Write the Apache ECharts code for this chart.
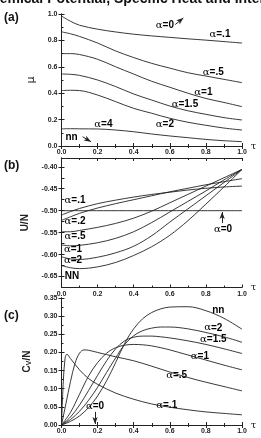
<!DOCTYPE html>
<html>
<head>
<meta charset="utf-8">
<script src="https://cdn.jsdelivr.net/npm/echarts@6/dist/echarts.min.js"></script>
<style>
  html, body { margin: 0; padding: 0; background: #fff; }
  #chart { width: 261px; height: 438px; }
</style>
</head>
<body>
<div id="chart"></div>
<script>
// ---- panel (a): chemical potential mu vs tau ----
const tauA = [0, 0.05, 0.1, 0.2, 0.3, 0.4, 0.5, 0.6, 0.7, 0.8, 0.9, 1.0];
const muA01 = [0.985, 0.945, 0.915, 0.885, 0.864, 0.847, 0.834, 0.823, 0.812, 0.802, 0.791, 0.78];
const muA05 = [0.865, 0.85, 0.83, 0.78, 0.72, 0.67, 0.626, 0.59, 0.555, 0.53, 0.505, 0.48];
const muA1 = [0.70, 0.70, 0.693, 0.657, 0.60, 0.545, 0.49, 0.445, 0.40, 0.36, 0.33, 0.298];
const muA15 = [0.545, 0.543, 0.535, 0.50, 0.45, 0.394, 0.348, 0.303, 0.267, 0.24, 0.215, 0.197];
const muA2 = [0.42, 0.422, 0.42, 0.386, 0.336, 0.285, 0.248, 0.21, 0.18, 0.157, 0.136, 0.121];
const muA4 = [0.13, 0.131, 0.13, 0.129, 0.121, 0.108, 0.091, 0.076, 0.063, 0.05, 0.04, 0.033];

// ---- panel (b): internal energy U/N vs tau ----
const tauB = [0, 0.05, 0.1, 0.2, 0.3, 0.4, 0.5, 0.6, 0.7, 0.8, 0.9, 1.0];
const uA01 = [-0.510, -0.502, -0.495, -0.484, -0.476, -0.469, -0.463, -0.458, -0.453, -0.449, -0.446, -0.444];
const uA02 = [-0.522, -0.514, -0.506, -0.494, -0.484, -0.475, -0.466, -0.457, -0.449, -0.441, -0.434, -0.427];
const uA05 = [-0.548, -0.548, -0.545, -0.538, -0.529, -0.517, -0.501, -0.482, -0.463, -0.444, -0.425, -0.406];
const uA1 = [-0.578, -0.580, -0.579, -0.573, -0.563, -0.548, -0.527, -0.503, -0.479, -0.455, -0.430, -0.406];
const uA2 = [-0.605, -0.610, -0.611, -0.606, -0.596, -0.581, -0.557, -0.526, -0.496, -0.466, -0.436, -0.406];
const uNN = [-0.625, -0.630, -0.632, -0.628, -0.618, -0.602, -0.582, -0.556, -0.523, -0.485, -0.446, -0.406];
const uA0 = -0.5;

// ---- panel (c): specific heat Cv/N vs tau ----
const tauC01 = [0, 0.01, 0.02, 0.03, 0.05, 0.1, 0.15, 0.2, 0.3, 0.4, 0.5, 0.6, 0.7, 0.8, 0.9, 1.0];
const cvA01 = [0, 0.12, 0.185, 0.195, 0.183, 0.152, 0.128, 0.112, 0.088, 0.071, 0.058, 0.049, 0.042, 0.036, 0.032, 0.028];
const tauC05 = [0, 0.025, 0.05, 0.075, 0.1, 0.125, 0.15, 0.2, 0.3, 0.4, 0.5, 0.6, 0.7, 0.8, 0.9, 1.0];
const cvA05 = [0, 0.06, 0.12, 0.17, 0.198, 0.207, 0.206, 0.2, 0.188, 0.177, 0.162, 0.146, 0.131, 0.118, 0.106, 0.094];
const tauC = [0, 0.05, 0.1, 0.15, 0.2, 0.25, 0.3, 0.35, 0.4, 0.45, 0.5, 0.55, 0.6, 0.7, 0.8, 0.9, 1.0];
const cvA1 = [0, 0.035, 0.085, 0.135, 0.172, 0.198, 0.213, 0.22, 0.222, 0.221, 0.218, 0.213, 0.207, 0.193, 0.179, 0.165, 0.152];
const cvA15 = [0, 0.022, 0.055, 0.095, 0.137, 0.177, 0.21, 0.232, 0.242, 0.245, 0.245, 0.243, 0.24, 0.232, 0.222, 0.21, 0.197];
const cvA2 = [0, 0.015, 0.038, 0.068, 0.104, 0.145, 0.185, 0.222, 0.246, 0.26, 0.267, 0.27, 0.27, 0.265, 0.255, 0.243, 0.228];
const cvNN = [0, 0.01, 0.025, 0.048, 0.08, 0.122, 0.172, 0.225, 0.265, 0.293, 0.31, 0.32, 0.325, 0.326, 0.315, 0.294, 0.264];

// tick labels
const xTicks = [0, 0.2, 0.4, 0.6, 0.8, 1.0];
const yTicksB = [-0.65, -0.60, -0.55, -0.50, -0.45, -0.40];
const yMinorB = [-0.675, -0.625, -0.575, -0.525, -0.475, -0.425];

// curve labels: [text, tau, value]
const labelsA = [["=0", 0.573, 0.917], ["=.1", 0.878, 0.846], ["=.5", 0.841, 0.555], ["=1", 0.786, 0.404],
  ["=1.5", 0.684, 0.316], ["=2", 0.573, 0.167], ["=4", 0.232, 0.167], ["nn", 0.056, 0.07]];
const labelsB = [["=.1", 0.075, -0.476], ["=.2", 0.075, -0.525], ["=.5", 0.075, -0.559], ["=1", 0.064, -0.588],
  ["=2", 0.064, -0.614], ["NN", 0.058, -0.649], ["=0", 0.895, -0.542]];
const labelsC = [["nn", 0.869, 0.317], ["=2", 0.841, 0.268], ["=1.5", 0.841, 0.236], ["=1", 0.767, 0.190],
  ["=.5", 0.638, 0.138], ["=.1", 0.583, 0.055], ["=0", 0.186, 0.052]];
// arrows: [[from], [to]]
const arrowsA = [[[0.63, 0.92], [0.675, 0.97]], [[0.117, 0.07], [0.163, 0.033]]];
const arrowsB = [[[0.89, -0.528], [0.89, -0.503]]];
const arrowsC = [[[0.186, 0.036], [0.186, 0.003]]];

const zip = (xs, ys) => xs.map((x, i) => [x, ys[i]]);
const grids = [
  { left: 61.5, top: 14, width: 180.5, height: 132 },
  { left: 61.5, top: 158, width: 180.5, height: 129.5 },
  { left: 61.5, top: 298, width: 180.5, height: 127 }
];
const tickFont = { fontFamily: "Liberation Sans", fontSize: 7, fontWeight: "bold", color: "#222" };
const lineCol = "#222";

const xAxes = [];
const yAxes = [];
grids.forEach((g, i) => {
  xAxes.push({
    gridIndex: i, type: "value", min: 0, max: 1, interval: 0.2,
    axisLine: { lineStyle: { color: lineCol, width: 1 } },
    axisTick: { inside: true, length: 3, lineStyle: { color: lineCol } },
    minorTick: { show: true, splitNumber: 2, length: 2, lineStyle: { color: lineCol } },
    axisLabel: Object.assign({ margin: 3, formatter: (v) => v.toFixed(1) }, tickFont),
    splitLine: { show: false },
    name: "τ", nameLocation: "end", nameGap: 5,
    nameTextStyle: { fontFamily: "DejaVu Serif", fontSize: 10, color: "#222", verticalAlign: "middle", padding: [6, 0, 0, 0] }
  });
  xAxes.push({
    gridIndex: i, type: "value", min: 0, max: 1, interval: 0.2, position: "top",
    axisLine: { lineStyle: { color: lineCol, width: 1 } },
    axisTick: { inside: true, length: 3, lineStyle: { color: lineCol } },
    minorTick: { show: true, splitNumber: 2, length: 2, lineStyle: { color: lineCol } },
    axisLabel: { show: false }, splitLine: { show: false }
  });
});

const yBase = {
  type: "value",
  axisLine: { show: true, lineStyle: { color: lineCol, width: 1 } },
  axisTick: { show: true, inside: true, length: 3, lineStyle: { color: lineCol } },
  splitLine: { show: false }
};
yAxes.push(Object.assign({}, yBase, {
  gridIndex: 0, min: 0, max: 1, interval: 0.2,
  minorTick: { show: true, splitNumber: 2, length: 2, lineStyle: { color: lineCol } },
  axisLabel: Object.assign({ margin: 4, formatter: (v) => v.toFixed(1) }, tickFont),
  name: "μ", nameLocation: "middle", nameGap: 22, nameRotate: 90,
  nameTextStyle: { fontFamily: "DejaVu Sans", fontSize: 11, color: "#222" }
}));
yAxes.push(Object.assign({}, yBase, { gridIndex: 0, min: 0, max: 1, interval: 0.2, position: "right", axisLabel: { show: false } }));
yAxes.push(Object.assign({}, yBase, {
  gridIndex: 1, min: -0.675, max: -0.38,
  axisTick: { show: true, inside: true, length: 3, lineStyle: { color: lineCol }, customValues: yTicksB.concat(yMinorB) },
  axisLabel: Object.assign({ margin: 4, customValues: yTicksB, formatter: (v) => v.toFixed(2) }, tickFont),
  name: "U/N", nameLocation: "middle", nameGap: 26, nameRotate: 90,
  nameTextStyle: { fontFamily: "Liberation Sans", fontSize: 10, fontWeight: "bold", color: "#222" }
}));
yAxes.push(Object.assign({}, yBase, {
  gridIndex: 1, min: -0.675, max: -0.38, position: "right",
  axisTick: { show: true, inside: true, length: 3, lineStyle: { color: lineCol }, customValues: yTicksB },
  axisLabel: { show: false }
}));
yAxes.push(Object.assign({}, yBase, {
  gridIndex: 2, min: 0, max: 0.35, interval: 0.05,
  minorTick: { show: true, splitNumber: 2, length: 2, lineStyle: { color: lineCol } },
  axisLabel: Object.assign({ margin: 4, formatter: (v) => v.toFixed(2) }, tickFont),
  name: "{c|C}{s|V}{c|/N}", nameLocation: "middle", nameGap: 25, nameRotate: 90,
  nameTextStyle: {
    rich: {
      c: { fontFamily: "Liberation Sans", fontSize: 10, fontWeight: "bold", color: "#222" },
      s: { fontFamily: "Liberation Sans", fontSize: 7, fontWeight: "bold", color: "#222", verticalAlign: "bottom", padding: [5, 0, 0, 0] }
    }
  }
}));
yAxes.push(Object.assign({}, yBase, { gridIndex: 2, min: 0, max: 0.35, interval: 0.05, position: "right", axisLabel: { show: false } }));

const series = [];
function curve(g, data) {
  series.push({
    type: "line", xAxisIndex: g * 2, yAxisIndex: g * 2, data: data,
    smooth: 0.35, showSymbol: false, silent: true,
    lineStyle: { color: lineCol, width: 0.9 }
  });
}
[muA01, muA05, muA1, muA15, muA2, muA4].forEach((ys) => curve(0, zip(tauA, ys)));
[uA01, uA02, uA05, uA1, uA2, uNN].forEach((ys) => curve(1, zip(tauB, ys)));
curve(1, [[0, uA0], [1, uA0]]);
curve(2, zip(tauC01, cvA01));
curve(2, zip(tauC05, cvA05));
[cvA1, cvA15, cvA2, cvNN].forEach((ys) => curve(2, zip(tauC, ys)));

// arrows as markLines on an empty helper series per panel
[arrowsA, arrowsB, arrowsC].forEach((arr, g) => {
  series.push({
    type: "line", xAxisIndex: g * 2, yAxisIndex: g * 2, data: [], silent: true,
    markLine: {
      silent: true, symbol: ["none", "arrow"], symbolSize: [4, 7],
      label: { show: false },
      lineStyle: { color: lineCol, type: "solid", width: 1 },
      data: arr.map((a) => [{ coord: a[0] }, { coord: a[1] }])
    }
  });
});

const chart = echarts.init(document.getElementById("chart"), null, { renderer: "canvas" });
chart.setOption({
  animation: false,
  backgroundColor: "#fff",
  grid: grids,
  xAxis: xAxes,
  yAxis: yAxes,
  series: series
});

// text annotations, placed through the axis scales
const rich = {
  g: { fontFamily: "DejaVu Serif", fontSize: 10, color: "#222" },
  t: { fontFamily: "Liberation Sans", fontSize: 10, fontWeight: "bold", color: "#222" }
};
const graphics = [];
[labelsA, labelsB, labelsC].forEach((labs, g) => {
  labs.forEach(([txt, t, v]) => {
    const p = chart.convertToPixel({ xAxisIndex: g * 2, yAxisIndex: g * 2 }, [t, v]);
    const isName = txt === "nn" || txt === "NN";
    graphics.push({
      type: "text", x: p[0], y: p[1], silent: true,
      style: {
        text: isName ? "{t|" + txt + "}" : "{g|α}{t|" + txt + "}",
        rich: rich, align: "center", verticalAlign: "middle"
      }
    });
  });
});
const panelFont = "bold 12px 'Liberation Sans'";
[["(a)", 4, 12], ["(b)", 4, 160], ["(c)", 4, 310]].forEach(([s, x, y]) => {
  graphics.push({ type: "text", x: x, y: y, style: { text: s, font: panelFont, fill: "#111" } });
});
graphics.push({
  type: "text", x: -19, y: -8,
  style: { text: "Chemical Potential, Specific Heat and Internal Energy", font: "bold 14px 'Liberation Sans'", fill: "#111" }
});
chart.setOption({ graphic: graphics });
</script>
</body>
</html>
